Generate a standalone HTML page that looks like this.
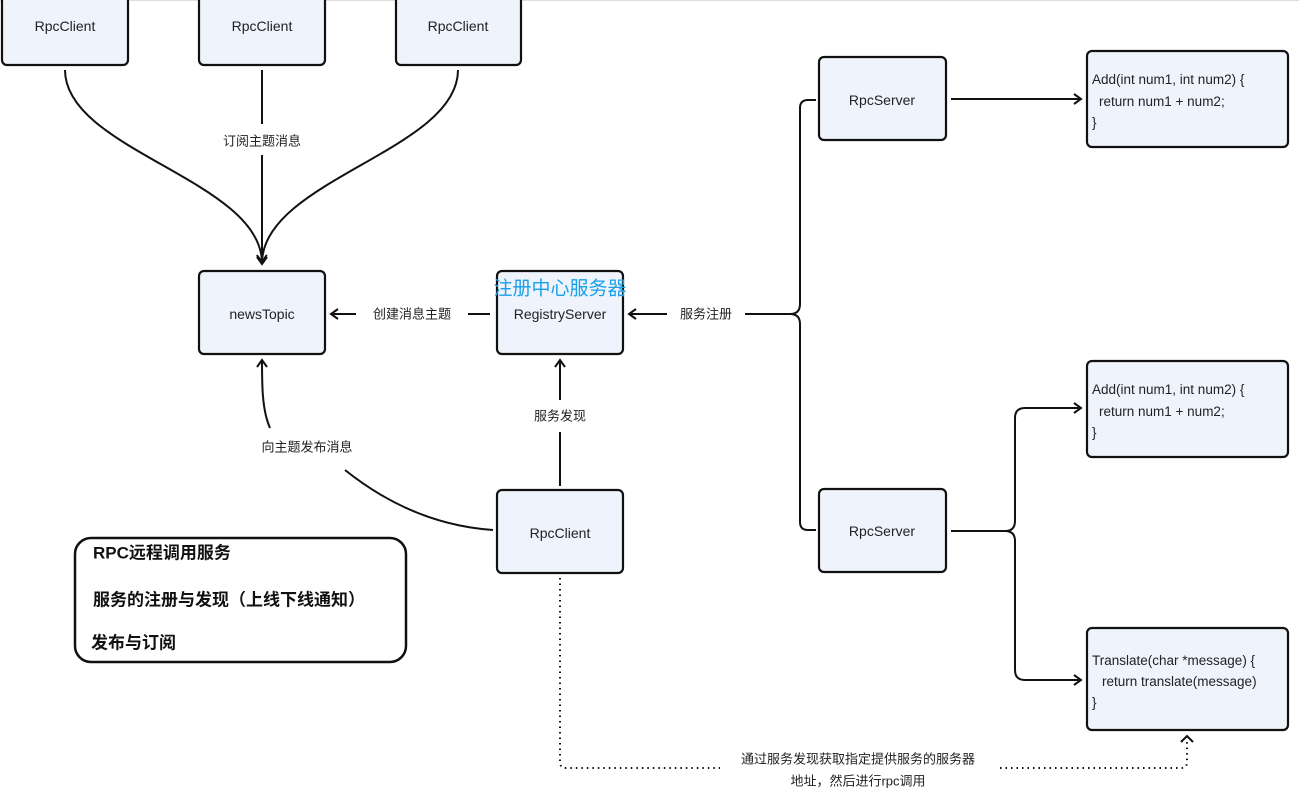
<!DOCTYPE html>
<html><head><meta charset="utf-8"><style>
body{margin:0;background:#fff;}
svg{display:block;font-family:"Liberation Sans","Noto Sans CJK SC",sans-serif;}
.b{fill:#eef3fc;stroke:#111;stroke-width:2.2;}
.l{fill:none;stroke:#111;stroke-width:2;}
.t{font-size:14px;fill:#222;text-anchor:middle;dominant-baseline:central;}
.c{font-size:13.5px;fill:#222;}
.lb{font-size:13px;fill:#222;text-anchor:middle;dominant-baseline:central;}
</style></head><body>
<svg width="1299" height="791" viewBox="0 0 1299 791">
<defs><marker id="a" markerWidth="12" markerHeight="12" refX="9" refY="6" orient="auto" markerUnits="userSpaceOnUse"><path d="M2,1 L9,6 L2,11" fill="none" stroke="#111" stroke-width="2"/></marker></defs>
<line x1="0" y1="0.5" x2="1299" y2="0.5" stroke="#ddd"/>
<!-- top clients -->
<rect class="b" x="2" y="-6" width="126" height="71" rx="5"/><text class="t" x="65" y="26">RpcClient</text>
<rect class="b" x="199" y="-6" width="126" height="71" rx="5"/><text class="t" x="262" y="26">RpcClient</text>
<rect class="b" x="396" y="-6" width="125" height="71" rx="5"/><text class="t" x="458" y="26">RpcClient</text>
<path class="l" d="M65,70 C65,150 260,180 262,262" marker-end="url(#a)"/>
<path class="l" d="M458,70 C458,150 264,180 262,262"/>
<line class="l" x1="262" y1="70" x2="262" y2="124"/>
<line class="l" x1="262" y1="155" x2="262" y2="264" marker-end="url(#a)"/>
<text class="lb" x="262" y="141">订阅主题消息</text>
<!-- middle -->
<rect class="b" x="199" y="271" width="126" height="83" rx="5"/><text class="t" x="262" y="314">newsTopic</text>
<rect class="b" x="497" y="271" width="126" height="83" rx="5"/><text class="t" x="560" y="314">RegistryServer</text>
<text x="560" y="289" style="font-size:19px;fill:#1aa0e8;text-anchor:middle;dominant-baseline:central">注册中心服务器</text>
<line class="l" x1="490" y1="314" x2="468" y2="314"/>
<line class="l" x1="356" y1="314" x2="331" y2="314" marker-end="url(#a)"/>
<text class="lb" x="412" y="314">创建消息主题</text>
<line class="l" x1="790" y1="314" x2="745" y2="314"/>
<line class="l" x1="667" y1="314" x2="629" y2="314" marker-end="url(#a)"/>
<text class="lb" x="706" y="314">服务注册</text>
<path class="l" d="M790,314 Q800,314 800,304 L800,108 Q800,100 808,100 L816,100"/>
<path class="l" d="M790,314 Q800,314 800,324 L800,522 Q800,530 808,530 L816,530"/>
<!-- servers -->
<rect class="b" x="819" y="57" width="127" height="83" rx="5"/><text class="t" x="882" y="100">RpcServer</text>
<line class="l" x1="951" y1="99" x2="1081" y2="99" marker-end="url(#a)"/>
<rect class="b" x="1087" y="51" width="201" height="96" rx="5"/>
<text class="c" x="1092" y="84">Add(int num1, int num2) {</text><text class="c" x="1099" y="106">return num1 + num2;</text><text class="c" x="1092" y="127">}</text>
<rect class="b" x="819" y="489" width="127" height="83" rx="5"/><text class="t" x="882" y="531">RpcServer</text>
<rect class="b" x="1087" y="361" width="201" height="96" rx="5"/>
<text class="c" x="1092" y="394">Add(int num1, int num2) {</text><text class="c" x="1099" y="416">return num1 + num2;</text><text class="c" x="1092" y="437">}</text>
<path class="l" d="M951,531 L1005,531 Q1015,531 1015,521 L1015,418 Q1015,408 1025,408 L1081,408" marker-end="url(#a)"/>
<path class="l" d="M1005,531 Q1015,531 1015,541 L1015,670 Q1015,680 1025,680 L1081,680" marker-end="url(#a)"/>
<rect class="b" x="1087" y="628" width="201" height="102" rx="5"/>
<text class="c" x="1092" y="665">Translate(char *message) {</text><text class="c" x="1102" y="686">return translate(message)</text><text class="c" x="1092" y="707">}</text>
<!-- bottom client -->
<rect class="b" x="497" y="490" width="126" height="83" rx="5"/><text class="t" x="560" y="533">RpcClient</text>
<line class="l" x1="560" y1="486" x2="560" y2="432"/>
<line class="l" x1="560" y1="400" x2="560" y2="360" marker-end="url(#a)"/>
<text class="lb" x="560" y="416">服务发现</text>
<path class="l" d="M493,530 C420,525 370,490 345,470"/>
<path class="l" d="M270,428 C262,410 262,385 262,360" marker-end="url(#a)"/>
<text class="lb" x="307" y="447">向主题发布消息</text>
<path fill="none" stroke="#111" stroke-width="2" stroke-dasharray="1.5,4" d="M560,578 L560,762 Q560,768 566,768 L720,768"/>
<path fill="none" stroke="#111" stroke-width="2" stroke-dasharray="1.5,4" d="M1000,768 L1181,768 Q1187,768 1187,762 L1187,738"/>
<path d="M1181,742 L1187,736 L1193,742" fill="none" stroke="#111" stroke-width="2"/>
<text class="lb" x="858" y="759">通过服务发现获取指定提供服务的服务器</text>
<text class="lb" x="858" y="781">地址，然后进行rpc调用</text>
<!-- legend -->
<rect x="75" y="538" width="331" height="124" rx="16" fill="#fff" stroke="#111" stroke-width="2.5"/>
<text x="93" y="553" style="font-size:17px;font-weight:bold;fill:#111;dominant-baseline:central">RPC远程调用服务</text>
<text x="93" y="600" style="font-size:17px;font-weight:bold;fill:#111;dominant-baseline:central">服务的注册与发现（上线下线通知）</text>
<text x="91" y="643" style="font-size:17px;font-weight:bold;fill:#111;dominant-baseline:central">发布与订阅</text>
</svg>
</body></html>
